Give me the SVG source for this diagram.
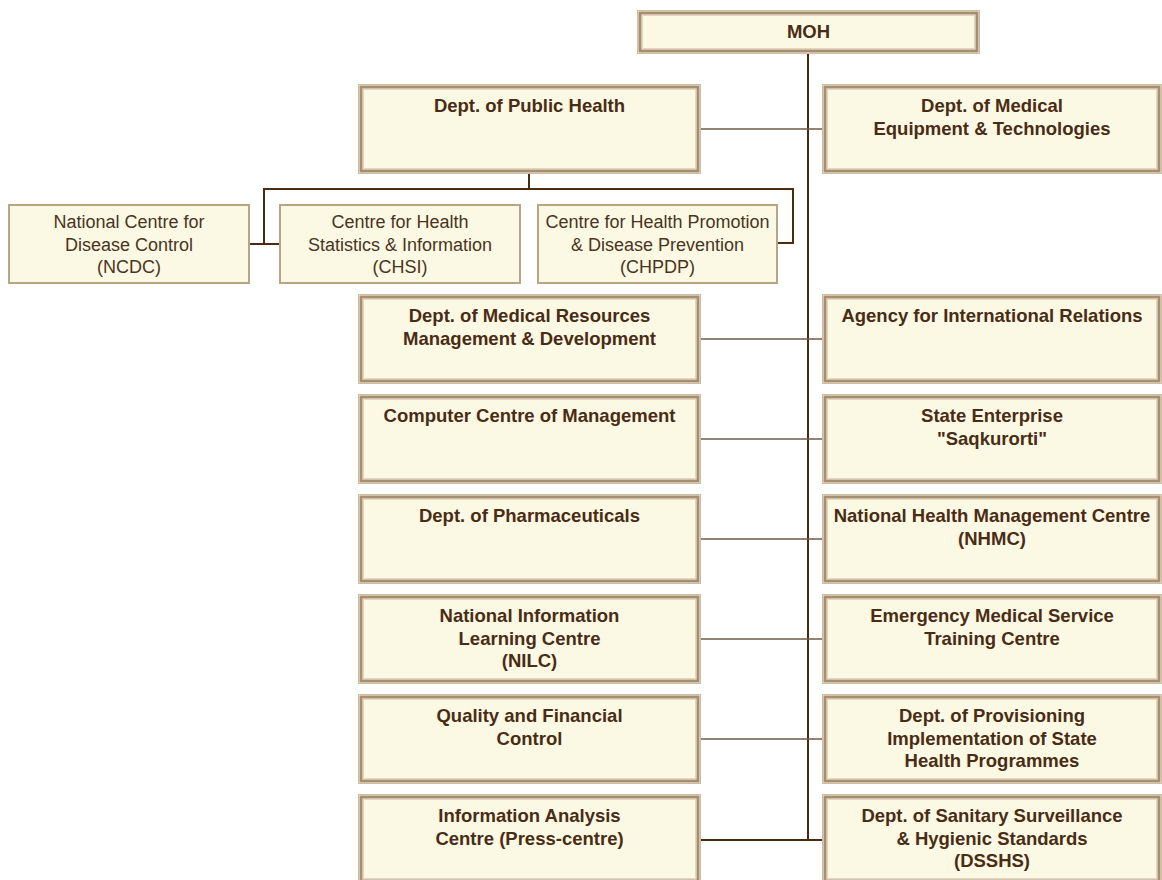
<svg xmlns="http://www.w3.org/2000/svg" width="1162" height="880" viewBox="0 0 1162 880">
<style>
.bo{fill:#fbf9e4;stroke:#cdbda4;stroke-width:1}
.bm{fill:none;stroke:#a88e70;stroke-width:3}
.bi{fill:none;stroke:#e2d6c0;stroke-width:1}
.sb{fill:#fbf9e4;stroke:#bba386;stroke-width:2}
.tb{font-family:"Liberation Sans",Arial,sans-serif;font-size:18.5px;font-weight:bold;fill:#4a2c14;text-anchor:middle}
.tn{font-family:"Liberation Sans",Arial,sans-serif;font-size:18px;fill:#4a3420;text-anchor:middle}
.trunk{stroke:#4a2c12;stroke-width:2;fill:none}
.h{stroke:#6f5a48;stroke-width:1.5;fill:none}
.sub{stroke:#4a2c12;stroke-width:2;fill:none}
</style>
<rect width="1162" height="880" fill="#ffffff"/>
<g id="connectors">
<line class="trunk" x1="808" y1="54" x2="808" y2="840"/>
<line class="h" x1="701" y1="129" x2="822" y2="129"/>
<line class="h" x1="701" y1="339" x2="822" y2="339"/>
<line class="h" x1="701" y1="439" x2="822" y2="439"/>
<line class="h" x1="701" y1="539" x2="822" y2="539"/>
<line class="h" x1="701" y1="639" x2="822" y2="639"/>
<line class="h" x1="701" y1="739" x2="822" y2="739"/>
<line class="sub" x1="701" y1="840" x2="822" y2="840"/>
<line class="sub" x1="529" y1="174" x2="529" y2="189"/>
<polyline class="sub" points="250,244 264,244 264,189 793,189 793,243 778,243"/>
<line class="sub" x1="264" y1="244" x2="279" y2="244"/>
</g>
<g id="moh">
<rect class="bo" x="637.5" y="10.5" width="342" height="43"/>
<rect class="bm" x="640" y="13" width="337" height="38"/>
<rect class="bi" x="642.5" y="15.5" width="332" height="33"/>
<text class="tb" x="808.5" y="38">MOH</text>
</g>
<g id="public-health">
<rect class="bo" x="358.5" y="84.5" width="342" height="89"/>
<rect class="bm" x="361" y="87" width="337" height="84"/>
<rect class="bi" x="363.5" y="89.5" width="332" height="79"/>
<text class="tb" x="529.5" y="112">Dept. of Public Health</text>
</g>
<g id="medical-equipment">
<rect class="bo" x="822.5" y="84.5" width="339" height="89"/>
<rect class="bm" x="825" y="87" width="334" height="84"/>
<rect class="bi" x="827.5" y="89.5" width="329" height="79"/>
<text class="tb" x="992" y="112">Dept. of Medical</text>
<text class="tb" x="992" y="134.5">Equipment &amp; Technologies</text>
</g>
<g id="ncdc">
<rect class="sb" x="9" y="205" width="240" height="78"/>
<text class="tn" x="129" y="228">National Centre for</text>
<text class="tn" x="129" y="250.5">Disease Control</text>
<text class="tn" x="129" y="273">(NCDC)</text>
</g>
<g id="chsi">
<rect class="sb" x="280" y="205" width="240" height="78"/>
<text class="tn" x="400" y="228">Centre for Health</text>
<text class="tn" x="400" y="250.5">Statistics &amp; Information</text>
<text class="tn" x="400" y="273">(CHSI)</text>
</g>
<g id="chpdp">
<rect class="sb" x="538" y="205" width="239" height="78"/>
<text class="tn" x="657.5" y="228">Centre for Health Promotion</text>
<text class="tn" x="657.5" y="250.5">&amp; Disease Prevention</text>
<text class="tn" x="657.5" y="273">(CHPDP)</text>
</g>
<g id="medical-resources">
<rect class="bo" x="358.5" y="294.5" width="342" height="89"/>
<rect class="bm" x="361" y="297" width="337" height="84"/>
<rect class="bi" x="363.5" y="299.5" width="332" height="79"/>
<text class="tb" x="529.5" y="322">Dept. of Medical Resources</text>
<text class="tb" x="529.5" y="344.5">Management &amp; Development</text>
</g>
<g id="international-relations">
<rect class="bo" x="822.5" y="294.5" width="339" height="89"/>
<rect class="bm" x="825" y="297" width="334" height="84"/>
<rect class="bi" x="827.5" y="299.5" width="329" height="79"/>
<text class="tb" x="992" y="322">Agency for International Relations</text>
</g>
<g id="computer-centre">
<rect class="bo" x="358.5" y="394.5" width="342" height="89"/>
<rect class="bm" x="361" y="397" width="337" height="84"/>
<rect class="bi" x="363.5" y="399.5" width="332" height="79"/>
<text class="tb" x="529.5" y="422">Computer Centre of Management</text>
</g>
<g id="saqkurorti">
<rect class="bo" x="822.5" y="394.5" width="339" height="89"/>
<rect class="bm" x="825" y="397" width="334" height="84"/>
<rect class="bi" x="827.5" y="399.5" width="329" height="79"/>
<text class="tb" x="992" y="422">State Enterprise</text>
<text class="tb" x="992" y="444.5">"Saqkurorti"</text>
</g>
<g id="pharmaceuticals">
<rect class="bo" x="358.5" y="494.5" width="342" height="89"/>
<rect class="bm" x="361" y="497" width="337" height="84"/>
<rect class="bi" x="363.5" y="499.5" width="332" height="79"/>
<text class="tb" x="529.5" y="522">Dept. of Pharmaceuticals</text>
</g>
<g id="nhmc">
<rect class="bo" x="822.5" y="494.5" width="339" height="89"/>
<rect class="bm" x="825" y="497" width="334" height="84"/>
<rect class="bi" x="827.5" y="499.5" width="329" height="79"/>
<text class="tb" x="992" y="522">National Health Management Centre</text>
<text class="tb" x="992" y="544.5">(NHMC)</text>
</g>
<g id="nilc">
<rect class="bo" x="358.5" y="594.5" width="342" height="89"/>
<rect class="bm" x="361" y="597" width="337" height="84"/>
<rect class="bi" x="363.5" y="599.5" width="332" height="79"/>
<text class="tb" x="529.5" y="622">National Information</text>
<text class="tb" x="529.5" y="644.5">Learning Centre</text>
<text class="tb" x="529.5" y="667">(NILC)</text>
</g>
<g id="emergency">
<rect class="bo" x="822.5" y="594.5" width="339" height="89"/>
<rect class="bm" x="825" y="597" width="334" height="84"/>
<rect class="bi" x="827.5" y="599.5" width="329" height="79"/>
<text class="tb" x="992" y="622">Emergency Medical Service</text>
<text class="tb" x="992" y="644.5">Training Centre</text>
</g>
<g id="quality">
<rect class="bo" x="358.5" y="694.5" width="342" height="89"/>
<rect class="bm" x="361" y="697" width="337" height="84"/>
<rect class="bi" x="363.5" y="699.5" width="332" height="79"/>
<text class="tb" x="529.5" y="722">Quality and Financial</text>
<text class="tb" x="529.5" y="744.5">Control</text>
</g>
<g id="provisioning">
<rect class="bo" x="822.5" y="694.5" width="339" height="89"/>
<rect class="bm" x="825" y="697" width="334" height="84"/>
<rect class="bi" x="827.5" y="699.5" width="329" height="79"/>
<text class="tb" x="992" y="722">Dept. of Provisioning</text>
<text class="tb" x="992" y="744.5">Implementation of State</text>
<text class="tb" x="992" y="767">Health Programmes</text>
</g>
<g id="information-analysis">
<rect class="bo" x="358.5" y="794.5" width="342" height="89"/>
<rect class="bm" x="361" y="797" width="337" height="84"/>
<rect class="bi" x="363.5" y="799.5" width="332" height="79"/>
<text class="tb" x="529.5" y="822">Information Analysis</text>
<text class="tb" x="529.5" y="844.5">Centre (Press-centre)</text>
</g>
<g id="dsshs">
<rect class="bo" x="822.5" y="794.5" width="339" height="89"/>
<rect class="bm" x="825" y="797" width="334" height="84"/>
<rect class="bi" x="827.5" y="799.5" width="329" height="79"/>
<text class="tb" x="992" y="822">Dept. of Sanitary Surveillance</text>
<text class="tb" x="992" y="844.5">&amp; Hygienic Standards</text>
<text class="tb" x="992" y="867">(DSSHS)</text>
</g>
</svg>
